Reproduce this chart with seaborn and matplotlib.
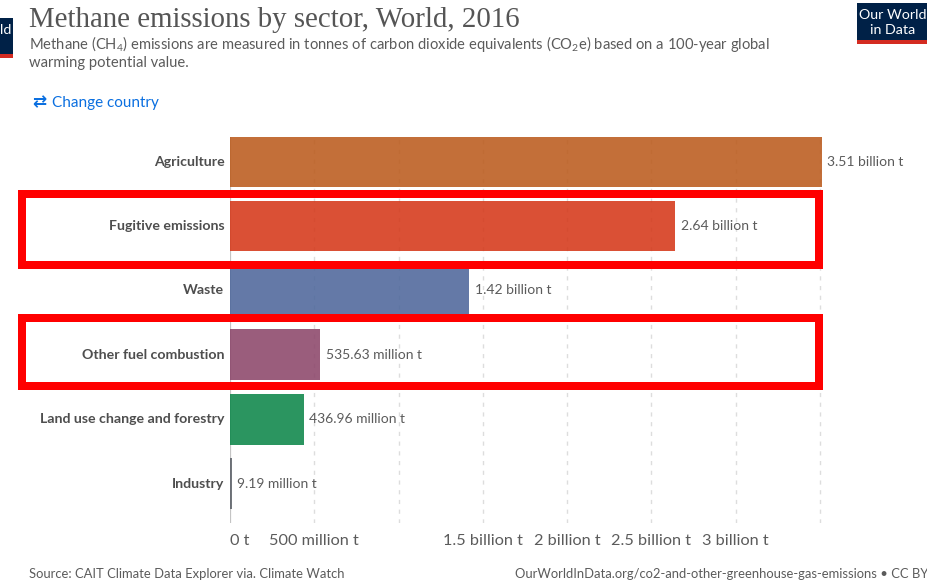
import matplotlib
matplotlib.use("Agg")
import matplotlib.pyplot as plt
from matplotlib.patches import Rectangle
import pandas as pd
import seaborn as sns

sectors = ["Agriculture", "Fugitive emissions", "Waste", "Other fuel combustion",
           "Land use change and forestry", "Industry"]
emissions_t = [3.51e9, 2.64e9, 1.42e9, 535.63e6, 436.96e6, 9.19e6]
value_labels = ["3.51 billion t", "2.64 billion t", "1.42 billion t",
                "535.63 million t", "436.96 million t", "9.19 million t"]
bar_colors = ["#BB5B1D", "#D53819", "#4E679B", "#8C466A", "#0D874A", "#5F646B"]
tick_values = [0, 0.5e9, 1e9, 1.5e9, 2e9, 2.5e9, 3e9, 3.5e9]
tick_labels = ["0 t", "500 million t", "", "1.5 billion t", "2 billion t",
               "2.5 billion t", "3 billion t", ""]

W, H = 928, 583
sns.set_theme(style="white")
plt.rcParams["font.family"] = ["Lato", "DejaVu Sans"]
plt.rcParams["mathtext.default"] = "regular"

TEXT = "#5b5b5b"
DARK = "#4e4e4e"
NAVY = "#002147"
RED = "#D42B21"


def pt(px):
    return px * 0.72


fig = plt.figure(figsize=(W / 100, H / 100), dpi=100, facecolor="white")


def fx(x):
    return x / W


def fy(y):
    return 1 - y / H


# Plot area spans the zero line to the 3.55 billion mark
left, right, top, bottom = 230, 830.5, 136.5, 522.5
ax = fig.add_axes([fx(left), fy(bottom), (right - left) / W, (bottom - top) / H])

df = pd.DataFrame({"sector": sectors, "emissions": emissions_t})
sns.barplot(data=df, x="emissions", y="sector", hue="sector", hue_order=sectors,
            palette=bar_colors, order=sectors, width=0.79, alpha=0.88, dodge=False,
            saturation=1, legend=False, ax=ax, zorder=3, linewidth=0)

ax.set_xlim(0, 3.5625e9)
ax.set_ylim(5.605, -0.39)
ax.set_xlabel("")
ax.set_ylabel("")
for side in ax.spines:
    ax.spines[side].set_visible(False)

ax.set_xticks(tick_values)
ax.set_xticklabels(tick_labels, fontsize=pt(16.3), color=TEXT)
ax.get_xticklabels()[0].set_ha("left")
ax.tick_params(axis="x", length=0, pad=8)
ax.tick_params(axis="y", length=0, pad=4)
ax.set_yticks(range(len(sectors)))
ax.set_yticklabels(sectors, fontsize=pt(14.1), fontweight="bold", color=DARK,
                   va="center")

for v in tick_values[1:]:
    ax.axvline(v, color="#dddddd", lw=1, ls=(0, (3, 4)), zorder=1)
ax.axvline(0, color="#c4c4c4", lw=1.6, zorder=2)

for container, label in zip(ax.containers, value_labels):
    ax.bar_label(container, labels=[label], padding=4.2, fontsize=pt(13.9),
                 color=TEXT, zorder=6)

# Highlight frames around two of the sectors
for x0, y0, x1, y1 in [(22, 194, 819, 265), (22, 318, 819, 386)]:
    fig.add_artist(Rectangle((fx(x0), fy(y1)), (x1 - x0) / W, (y1 - y0) / H,
                             transform=fig.transFigure, fill=False,
                             edgecolor="#FF0000", linewidth=pt(8), zorder=10,
                             joinstyle="miter"))

# Header
fig.text(fx(29), fy(27), "Methane emissions by sector, World, 2016",
         family="Liberation Serif", fontsize=pt(28.85), color="#555555", va="baseline")
fig.text(fx(29), fy(49), "Methane (CH$_4$) emissions are measured in tonnes of carbon dioxide "
         "equivalents (CO$_2$e) based on a 100-year global",
         fontsize=pt(14.8), color=TEXT, va="baseline")
fig.text(fx(29), fy(67), "warming potential value.", fontsize=pt(14.8), color=TEXT, va="baseline")

fig.text(fx(32), fy(107), "\u21c4", family="DejaVu Sans", fontweight="bold", fontsize=pt(17),
         color="#0a6fe0", va="baseline")
fig.text(fx(52), fy(107), "Change country", fontsize=pt(15.2), color="#0a6fe0", va="baseline")

# Logo blocks
for x0, y0, x1, y1, red_y in [(0, 18, 13.5, 58, 54.5), (857, 3, 928, 44, 40)]:
    fig.add_artist(Rectangle((fx(x0), fy(y1)), (x1 - x0) / W, (y1 - y0) / H,
                             transform=fig.transFigure, color=NAVY, lw=0))
    fig.add_artist(Rectangle((fx(x0), fy(y1)), (x1 - x0) / W, (y1 - red_y) / H,
                             transform=fig.transFigure, color=RED, lw=0))
fig.text(fx(893), fy(15), "Our World", fontsize=pt(14.2), color="white", ha="center", va="center", zorder=11)
fig.text(fx(893), fy(30.5), "in Data", fontsize=pt(14.2), color="white", ha="center", va="center", zorder=11)
fig.text(fx(6), fy(30.5), "ld", fontsize=pt(14.2), color="white", ha="center", va="center", zorder=11)

# Footer
fig.text(fx(29), fy(578), "Source: CAIT Climate Data Explorer via. Climate Watch",
         fontsize=pt(13), color=TEXT, va="baseline")
fig.text(fx(928), fy(578), "OurWorldInData.org/co2-and-other-greenhouse-gas-emissions \u2022 CC BY",
         fontsize=pt(13.05), color=TEXT, va="baseline", ha="right")

fig.savefig("out.png", dpi=100)
